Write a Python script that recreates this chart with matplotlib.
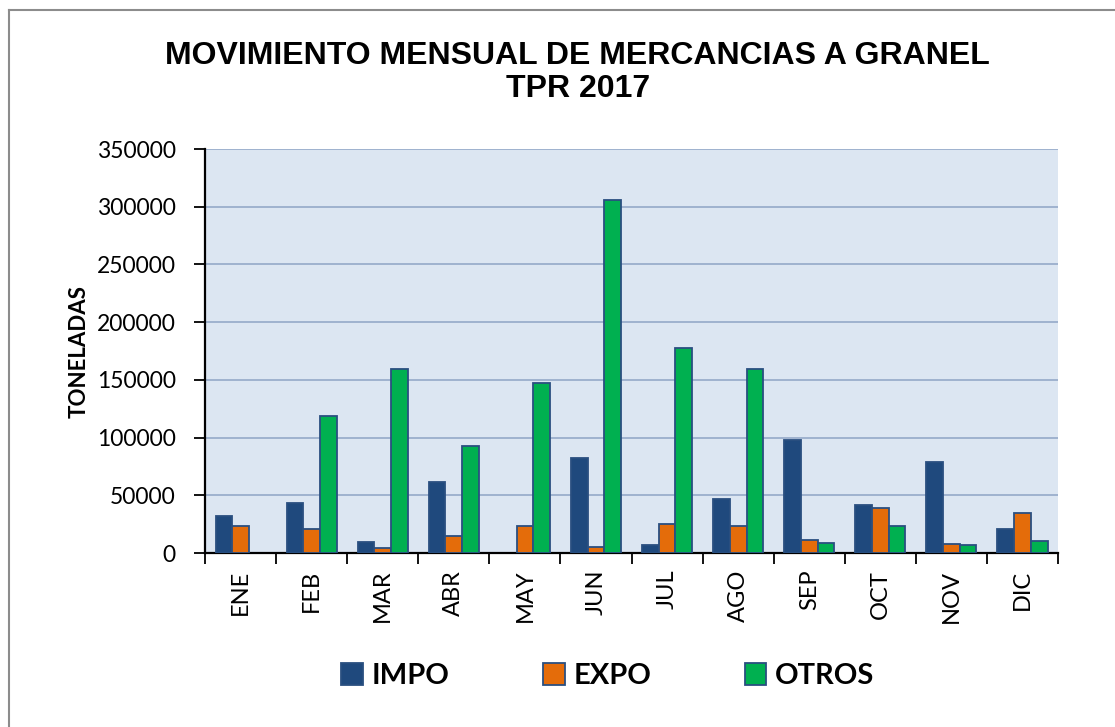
import numpy as np
import matplotlib.pyplot as plt
from matplotlib.lines import Line2D
from matplotlib.ticker import FixedLocator

# datos mensuales (toneladas)
meses = ['ENE', 'FEB', 'MAR', 'ABR', 'MAY', 'JUN', 'JUL', 'AGO', 'SEP', 'OCT', 'NOV', 'DIC']
impo = [31700, 43000, 9500, 61800, 0, 82600, 7200, 47000, 97600, 41300, 79100, 20500]
expo = [23000, 21000, 4600, 15000, 23600, 5200, 25400, 23000, 11200, 39000, 7800, 34900]
otros = [0, 118400, 159700, 92400, 147500, 306000, 177800, 159700, 8600, 23600, 6600, 10700]
series = ['IMPO', 'EXPO', 'OTROS']
colores = ['#1F497D', '#E46C0A', '#00B050']

fig = plt.figure(figsize=(11.15, 7.27), dpi=100)
ax = fig.add_axes([0.1839, 0.2393, 0.765, 0.5557])
ax.set_facecolor('#DCE6F2')

x = np.arange(len(meses))
w = 0.235
for i, (vals, c, nom) in enumerate(zip([impo, expo, otros], colores, series)):
    # los meses sin movimiento no se dibujan
    alturas = [v if v > 0 else np.nan for v in vals]
    ax.bar(x + (i - 1) * w, alturas, width=w, color=c, edgecolor='#2A4F80',
           linewidth=1.3, label=nom, zorder=3)

ax.set_xlim(-0.5, 11.5)
ax.set_ylim(0, 350000)
ax.set_yticks(np.arange(0, 350001, 50000))
ax.yaxis.grid(True, color='#95A9C8', linewidth=1.2, zorder=0)

ax.set_xticks(x)
ax.set_xticklabels(meses, rotation=90, fontsize=17, family='Lato')
ax.tick_params(axis='x', which='major', length=0, pad=12)
ax.xaxis.set_minor_locator(FixedLocator(np.arange(-0.5, 12, 1)))
ax.tick_params(axis='x', which='minor', length=8, width=1.3, direction='out')
ax.tick_params(axis='y', length=8, width=1.3, labelsize=16.5, pad=13)
for lab in ax.get_yticklabels():
    lab.set_family('Lato')

for s in ['top', 'right']:
    ax.spines[s].set_visible(False)
for s in ['left', 'bottom']:
    ax.spines[s].set_linewidth(1.6)

ax.set_ylabel('TONELADAS', fontsize=16, fontweight='bold', family='Lato', labelpad=5)

fig.text(0.518, 0.9, 'MOVIMIENTO MENSUAL DE MERCANCIAS A GRANEL\nTPR 2017',
         ha='center', va='center', fontsize=23, fontweight='bold',
         family='Liberation Sans', linespacing=1.15)

# marco exterior
fig.add_artist(Line2D([0.008, 0.008], [0.0, 0.986], transform=fig.transFigure,
                      color='#8C8C8C', linewidth=1.5))
fig.add_artist(Line2D([0.008, 1.0], [0.986, 0.986], transform=fig.transFigure,
                      color='#8C8C8C', linewidth=1.5))

leg = fig.legend(loc='center', bbox_to_anchor=(0.545, 0.070), ncol=3, frameon=False,
                 prop={'family': 'Lato', 'weight': 'bold', 'size': 21},
                 handlelength=0.75, handleheight=0.75, columnspacing=3.2, handletextpad=0.3)

fig.savefig('out.png', dpi=100)
